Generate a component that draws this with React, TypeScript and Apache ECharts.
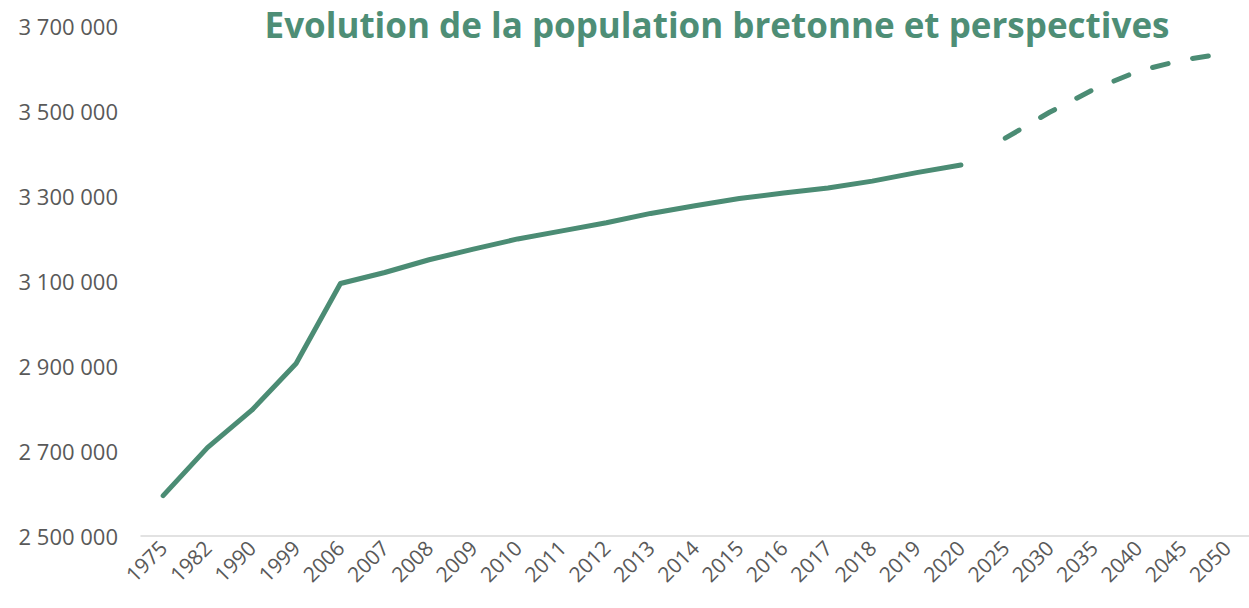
import React, { useEffect, useRef } from "react";
import * as echarts from "echarts";

const categories = [
  "1975", "1982", "1990", "1999", "2006", "2007", "2008", "2009", "2010", "2011",
  "2012", "2013", "2014", "2015", "2016", "2017", "2018", "2019", "2020",
  "2025", "2030", "2035", "2040", "2045", "2050",
];

const observed = [
  2595000, 2708000, 2796000, 2906000, 3094000, 3120000, 3150000, 3175000, 3199000,
  3218000, 3237000, 3259000, 3277000, 3294000, 3307000, 3319000, 3335000, 3355000, 3373000,
];

const projected = [3436000, 3497000, 3551000, 3594000, 3620000, 3636000];

const yTicks = { min: 2500000, max: 3700000, interval: 200000 };

const GREEN = "#4B8C74";

export default function App() {
  const ref = useRef<HTMLDivElement>(null);
  useEffect(() => {
    if (!ref.current) return;
    const chart = echarts.init(ref.current, undefined, { renderer: "svg" });
    const nObs = observed.length;
    const solid = categories.map((_, i) => (i < nObs ? observed[i] : null));
    const dashed = categories.map((_, i) => (i >= nObs ? projected[i - nObs] : null));
    chart.setOption({
      animation: false,
      title: {
        text: "Evolution de la population bretonne et perspectives",
        left: 712,
        textAlign: "center",
        top: 2,
        textStyle: {
          color: "#4E8E76",
          fontSize: 35,
          fontWeight: "bold",
          fontFamily: "Open Sans",
        },
      },
      grid: { left: 141, right: 0, top: 26, bottom: 72, containLabel: false },
      xAxis: {
        type: "category",
        data: categories,
        boundaryGap: true,
        axisLine: { show: true, lineStyle: { color: "#D9D9D9", width: 1.5 } },
        axisTick: { show: false },
        axisLabel: {
          rotate: 45,
          interval: 0,
          color: "#595959",
          fontSize: 21,
          fontFamily: "Open Sans",
          margin: 8,
        },
        splitLine: { show: false },
      },
      yAxis: {
        type: "value",
        min: yTicks.min,
        max: yTicks.max,
        interval: yTicks.interval,
        axisLine: { show: false },
        axisTick: { show: false },
        splitLine: { show: false },
        axisLabel: {
          color: "#595959",
          fontSize: 22,
          fontFamily: "Open Sans",
          margin: 23,
          formatter: (v: number) => String(v).replace(/\B(?=(\d{3})+(?!\d))/g, " "),
        },
      },
      series: [
        {
          type: "line",
          data: solid,
          showSymbol: false,
          symbol: "none",
          connectNulls: false,
          lineStyle: { color: GREEN, width: 5, cap: "round", join: "round" },
        },
        {
          type: "line",
          data: dashed,
          showSymbol: false,
          symbol: "none",
          connectNulls: false,
          lineStyle: { color: GREEN, width: 5, type: [16, 25], cap: "round", join: "round" },
        },
      ],
    });
    return () => chart.dispose();
  }, []);
  return (
    <div
      ref={ref}
      style={{ position: "fixed", left: 0, top: 0, width: 1249, height: 608, background: "#fff" }}
    />
  );
}
